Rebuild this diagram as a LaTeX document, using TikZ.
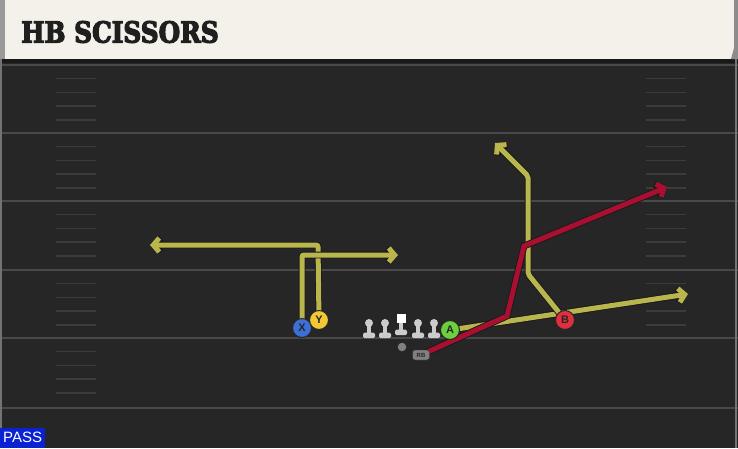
\documentclass[tikz,border=0pt]{standalone}
\usepackage{fontspec}
\setsansfont{Liberation Sans}
\newfontfamily\headfont{DejaVu Serif Condensed}[FakeBold=4]
\usetikzlibrary{arrows.meta}

\definecolor{field}{HTML}{262626}
\definecolor{cream}{HTML}{F4F1EA}
\definecolor{routey}{HTML}{B8B64C}
\definecolor{router}{HTML}{A80F30}
\definecolor{xblue}{HTML}{3C70D8}
\definecolor{yyel}{HTML}{F2C935}
\definecolor{agreen}{HTML}{6DCF3E}
\definecolor{bred}{HTML}{E0303E}
\definecolor{passblue}{HTML}{0A22D2}

\pgfdeclarelayer{bg}
\pgfdeclarelayer{routes}
\pgfsetlayers{bg,routes,main}

\tikzset{
  yard/.style={draw=white!16!field, line width=2pt},
  hashmark/.style={draw=white!10!field, line width=1.5pt},
  route/.style={->, draw=#1, line width=5pt, rounded corners=2pt,
    preaction={draw=black!90, line width=6.8pt}},
  player/.style={circle, fill=#1, draw=black!85, line width=1pt, inner sep=0pt,
    minimum size=19pt, font=\sffamily\bfseries\fontsize{11}{11}\selectfont, text=black!85},
  lineman/.style={fill=black!20},
}

\begin{document}
\begin{tikzpicture}[x=1pt, y=-1pt, >={Straight Barb[length=6pt,width=14pt]}]
  \useasboundingbox (0,0) rectangle (738,448);
  \begin{pgfonlayer}{bg}
  % field
  \fill[field] (0,59) rectangle (738,448);
  \fill[black!90] (0,59) rectangle (738,63);
  \foreach \y in {65,133,201,270,338,408}
    \draw[yard] (0,\y) -- (738,\y);
  \foreach \y in {65,133,201,270} {
    \foreach \k in {1,...,4} {
      \draw[hashmark] (56,\y+13.7*\k) -- (96,\y+13.7*\k);
      \draw[hashmark] (646,\y+13.7*\k) -- (686,\y+13.7*\k);
    }
  }
  \foreach \k in {1,...,4}
    \draw[hashmark] (56,338+13.7*\k) -- (96,338+13.7*\k);
  \draw[black!55, line width=1.5pt] (1,59) -- (1,448);
  \draw[black!55, line width=1.5pt] (736,59) -- (736,448);
  \end{pgfonlayer}

  % header
  \fill[cream] (0,0) rectangle (734,59);
  \fill[black!45] (734,0) -- (738,0) -- (738,59) -- (731,59) -- (734,48) -- cycle;
  \fill[black!40] (0,0) rectangle (5,59);
  \node[anchor=west, inner sep=0pt, text=black!88] (title) at (21,32)
    {\scalebox{0.95}[1]{\headfont\bfseries\fontsize{29}{29}\selectfont HB SCISSORS}};

  % line
  \foreach \x in {369,385,418,434} {
    \fill[lineman] (\x-2,323) rectangle (\x+2,334);
    \fill[lineman, rounded corners=1.5pt] (\x-6,332.5) rectangle (\x+6,338);
    \fill[lineman] (\x,323) circle (4);
  }
  \fill[lineman] (399,322) rectangle (403,331);
  \fill[lineman, rounded corners=1.5pt] (395,329.5) rectangle (407,335);
  \fill[white] (397,314) rectangle (405.5,323);
  \node[circle, fill=black!50, inner sep=0pt, minimum size=8.5pt] (ball) at (402,347) {};

  % players
  \node[player=xblue] (X) at (302,328) {X};
  \node[player=yyel] (Y) at (319,320) {Y};
  \node[player=agreen] (A) at (450,330) {A};
  \node[player=bred] (B) at (565,320) {B};
  \node[fill=black!50, draw=black!85, rounded corners=2.5pt, inner sep=0pt,
    minimum width=17pt, minimum height=10pt, text=black!85,
    font=\sffamily\bfseries\fontsize{6}{6}\selectfont] (RB) at (421,355) {RB};

  % routes
  \coordinate (y1) at (318,245);  \coordinate (y2) at (150,245);
  \coordinate (x1) at (302,255);  \coordinate (x2) at (398,255);
  \coordinate (a1) at (688,294);
  \coordinate (b1) at (528,274);  \coordinate (b2) at (528,176);
  \coordinate (b3) at (495,143);
  \coordinate (r1) at (507,316);  \coordinate (r2) at (524,246);
  \coordinate (r3) at (667,187);
  \begin{pgfonlayer}{routes}
  \draw[route=routey] (Y.center) -- (y1) -- (y2);
  \draw[route=routey] (X.center) -- (x1) -- (x2);
  \draw[route=routey] (A.center) -- (a1);
  \draw[route=routey] (B.center) -- (b1) -- (b2) -- (b3);
  \draw[route=router, rounded corners=0pt] (RB.center) -- (r1) -- (r2) -- (r3);
  \end{pgfonlayer}

  % play type
  \node[anchor=south west, fill=passblue, text=white, inner sep=0pt,
    minimum width=45pt, minimum height=20pt, font=\sffamily\fontsize{15}{15}\selectfont]
    (pass) at (0,448) {PASS};
\end{tikzpicture}
\end{document}
